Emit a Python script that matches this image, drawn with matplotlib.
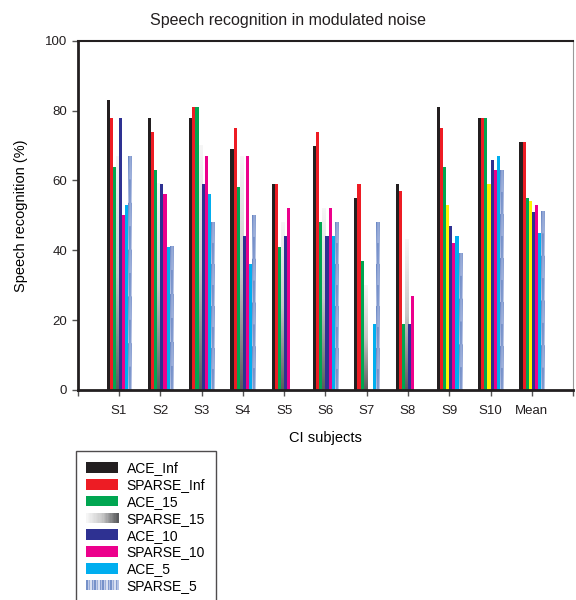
import numpy as np
import matplotlib
matplotlib.use('Agg')
import matplotlib.pyplot as plt
from matplotlib.patches import Rectangle
from matplotlib.legend_handler import HandlerBase

plt.rcParams['font.family'] = ['Liberation Sans', 'DejaVu Sans']

# dados (% de reconhecimento)
grupos = ['S1', 'S2', 'S3', 'S4', 'S5', 'S6', 'S7', 'S8', 'S9', 'S10', 'Mean']
ace_inf    = [83, 78, 78, 69, 59, 70, 55, 59, 81, 78, 71]
sparse_inf = [78, 74, 81, 75, 59, 74, 59, 57, 75, 78, 71]
ace_15     = [64, 63, 81, 58, 41, 48, 37, 19, 64, 78, 55]
sparse_15  = [67, 59, 70, 67, 48, 52, 30, 43, 53, 59, 54]
ace_10     = [78, 59, 59, 44, 44, 44, 0, 19, 47, 66, 51]
sparse_10  = [50, 56, 67, 67, 52, 52, 0, 27, 42, 63, 53]
ace_5      = [53, 41, 56, 36, 0, 44, 19, 0, 44, 67, 45]
sparse_5   = [67, 41, 48, 50, 0, 48, 48, 0, 39, 63, 51]
# SPARSE_15 aparece amarelo em S9, S10 e Mean
sparse_15_amarelo = ['S9', 'S10', 'Mean']

series = [('ACE_Inf', ace_inf, '#231f20'),
          ('SPARSE_Inf', sparse_inf, '#ed1c24'),
          ('ACE_15', ace_15, '#00a651'),
          ('SPARSE_15', sparse_15, 'grad'),
          ('ACE_10', ace_10, '#2e3192'),
          ('SPARSE_10', sparse_10, '#ec008c'),
          ('ACE_5', ace_5, '#00aeef'),
          ('SPARSE_5', sparse_5, 'tex')]

cinza = plt.matplotlib.colors.LinearSegmentedColormap.from_list('g', ['#f6f6f6', '#c8c8c8', '#5a5b5d'])
azul = plt.matplotlib.colors.LinearSegmentedColormap.from_list('b', ['#e6ebf7', '#a9b9e0', '#6a87c4'])

fig = plt.figure(figsize=(5.76, 6.0), dpi=100)
ax = fig.add_axes([0.135, 0.35, 0.86, 0.582])

x = np.arange(1, len(grupos) + 1)
w = 0.075
for i, (nome, vals, cor) in enumerate(series):
    pos = x + (i - 3.5) * w
    for g, p, v in zip(grupos, pos, vals):
        if v <= 0:
            continue
        if cor == 'grad':
            if g in sparse_15_amarelo:
                ax.bar(p, v, w, color='#fff200', linewidth=0, zorder=2)
            else:
                # claro no topo, cinza escuro em baixo
                grad = np.linspace(1, 0, 100).reshape(-1, 1)
                ax.imshow(grad, extent=[p - w / 2, p + w / 2, 0, v], cmap=cinza,
                          aspect='auto', origin='lower', zorder=2, vmin=0, vmax=1)
        elif cor == 'tex':
            n = max(int(v / 12), 1)
            fase = np.linspace(0, n, 60 * n) % 1
            tex = np.column_stack([1 - fase * 0.6, 0.6 + 0.4 * (fase > 0.5), 0.8 - fase * 0.5])
            ax.imshow(tex, extent=[p - w / 2, p + w / 2, 0, v], cmap=azul,
                      aspect='auto', origin='upper', zorder=2, vmin=0, vmax=1)
        else:
            ax.bar(p, v, w, color=cor, linewidth=0, zorder=2)

ax.set_xlim(0, 12)
ax.set_ylim(0, 100)
ax.set_xticks(np.arange(0, 13))
ax.set_xticklabels([''] + grupos + [''])
ax.set_yticks(np.arange(0, 101, 20))
ax.tick_params(axis='both', direction='out', length=4, width=1, color='#555555',
               labelsize=9.5, labelcolor='#231f20')
ax.tick_params(axis='x', pad=7)
for s in ['left', 'bottom']:
    ax.spines[s].set_linewidth(2)
    ax.spines[s].set_color('#231f20')
ax.spines['top'].set_linewidth(1.5)
ax.spines['top'].set_color('#231f20')
ax.spines['right'].set_linewidth(0.8)
ax.spines['right'].set_color('#999999')

fig.text(0.5, 1 - 20 / 600, 'Speech recognition in modulated noise', fontsize=11.5,
         ha='center', va='center', color='#231f20')
ax.set_ylabel('Speech recognition (%)', fontsize=10.5, labelpad=12)
ax.set_xlabel('CI subjects', fontsize=10.5, labelpad=10)


class HandlerGrad(HandlerBase):
    def __init__(self, cmap, modo):
        super().__init__()
        self.cmap = cmap
        self.modo = modo

    def create_artists(self, legend, orig, xd, yd, width, height, fontsize, trans):
        arts = []
        n = 24
        for k in range(n):
            if self.modo == 'grad':
                c = self.cmap(k / (n - 1))
            else:
                c = self.cmap([0.9, 0.3, 0.6, 0.1, 0.8, 0.4][k % 6])
            arts.append(Rectangle((-xd + width * k / n, -yd), width / n + 0.3, height,
                                  facecolor=c, edgecolor='none', transform=trans))
        return arts


handles = []
for nome, vals, cor in series:
    if cor in ('grad', 'tex'):
        handles.append(Rectangle((0, 0), 1, 1, label=nome))
    else:
        handles.append(Rectangle((0, 0), 1, 1, facecolor=cor, label=nome))

leg = fig.legend(handles=handles, loc='upper left', bbox_to_anchor=(76 / 576, 1 - 451 / 600),
                 handler_map={handles[3]: HandlerGrad(cinza, 'grad'),
                              handles[7]: HandlerGrad(azul, 'tex')},
                 fontsize=10, frameon=True, fancybox=False, edgecolor='#231f20',
                 handlelength=2.3, handleheight=0.8, labelspacing=0.2,
                 handletextpad=0.6, borderpad=0.75, borderaxespad=0)
leg.get_frame().set_linewidth(1)

fig.savefig('out.png', dpi=100)
